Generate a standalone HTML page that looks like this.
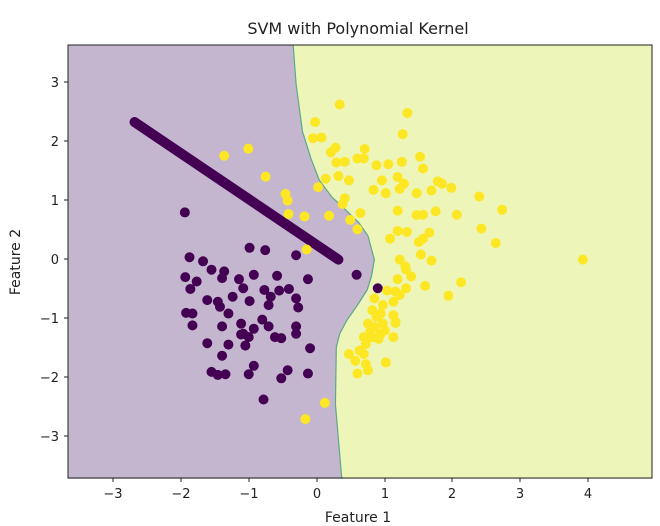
<!DOCTYPE html>
<html><head><meta charset="utf-8"><style>
body{margin:0;background:#fff;}
svg{display:block;font-family:"DejaVu Sans","Liberation Sans",sans-serif;}
</style></head><body>
<svg width="660" height="526" viewBox="0 0 660 526">
<rect width="660" height="526" fill="#fff"/>
<text x="358" y="34" font-size="16" text-anchor="middle" fill="#222">SVM with Polynomial Kernel</text>
<g transform="scale(0.42301,0.33715)">
<rect x="160" y="133" width="1380" height="1287" fill="#c5b6cf"/>
<path d="M693,133 L700,250 L715,390 L735,470 L755,535 L785,585 L815,620 L848,660 L870,700 L885,770 L878,820 L868,860 L845,905 L820,950 L803,990 L795,1030 L793,1200 L808,1420 L1540,1420 L1540,133 Z" fill="#eef5b8"/>
<path d="M693,133 L700,250 L715,390 L735,470 L755,535 L785,585 L815,620 L848,660 L870,700 L885,770 L878,820 L868,860 L845,905 L820,950 L803,990 L795,1030 L793,1200 L808,1420" fill="none" stroke="#5aa98a" stroke-width="1.2" vector-effect="non-scaling-stroke"/>
<g stroke="#440154" stroke-width="10" stroke-linecap="round" fill="none" vector-effect="non-scaling-stroke">
<path vector-effect="non-scaling-stroke" d="M318,362 L800,770"/>
<path vector-effect="non-scaling-stroke" d="M843,815h0M893,855h0M437,630h0M590,735h0M627,742h0M700,757h0M448,763h0M480,775h0M438,822h0M465,835h0M500,800h0M530,805h0M525,825h0M565,828h0M600,815h0M655,818h0M728,828h0M450,857h0M575,855h0M625,860h0M660,862h0M683,857h0M490,890h0M515,895h0M550,880h0M590,893h0M640,880h0M700,885h0M635,905h0M705,912h0M440,928h0M455,930h0M520,910h0M540,930h0M570,960h0M620,948h0M455,965h0M525,968h0M575,990h0M600,975h0M635,968h0M700,968h0M700,990h0M570,992h0M650,1000h0M665,1003h0M588,1000h0M490,1018h0M540,1022h0M580,1025h0M525,1055h0M733,1033h0M600,1085h0M500,1103h0M515,1112h0M533,1110h0M588,1110h0M665,1122h0M680,1098h0M728,1108h0M623,1185h0"/>
</g>
<path fill="none" stroke="#fde725" stroke-width="10" stroke-linecap="round" vector-effect="non-scaling-stroke" d="M803,310h0M963,335h0M745,362h0M952,398h0M740,410h0M760,408h0M530,462h0M587,441h0M793,438h0M862,442h0M782,452h0M815,480h0M845,470h0M860,470h0M795,482h0M890,490h0M918,487h0M950,480h0M993,465h0M1000,500h0M628,524h0M770,530h0M800,522h0M825,535h0M903,535h0M940,525h0M955,545h0M1035,538h0M1045,545h0M1067,557h0M1020,565h0M752,555h0M675,575h0M680,595h0M883,563h0M912,573h0M945,560h0M985,573h0M815,588h0M810,605h0M1133,583h0M1187,622h0M682,635h0M720,642h0M778,640h0M852,632h0M940,625h0M985,638h0M1000,637h0M1030,627h0M1080,637h0M828,652h0M845,680h0M922,708h0M940,685h0M962,688h0M1015,690h0M990,718h0M1000,708h0M1138,678h0M1172,721h0M725,740h0M995,755h0M1020,773h0M945,770h0M958,790h0M960,800h0M972,820h0M940,828h0M1005,848h0M1090,837h0M915,862h0M935,865h0M885,885h0M1060,877h0M905,905h0M930,895h0M945,875h0M960,855h0M880,920h0M900,930h0M930,935h0M935,955h0M870,960h0M885,970h0M900,990h0M860,1000h0M880,1000h0M910,980h0M865,1020h0M895,1005h0M850,1040h0M860,1050h0M825,1050h0M840,1070h0M865,1080h0M912,1075h0M845,1108h0M870,1098h0M768,1195h0M722,1243h0M1378,770h0M935,958h0M890,940h0M905,960h0M875,985h0M930,1000h0"/>
</g>
<rect x="68" y="45" width="584" height="433" fill="none" stroke="#222" stroke-width="1"/>
<g stroke="#222" stroke-width="1">
<line x1="113" y1="478" x2="113" y2="482"/><line x1="181" y1="478" x2="181" y2="482"/><line x1="249" y1="478" x2="249" y2="482"/><line x1="317" y1="478" x2="317" y2="482"/><line x1="385" y1="478" x2="385" y2="482"/><line x1="452" y1="478" x2="452" y2="482"/><line x1="520" y1="478" x2="520" y2="482"/><line x1="588" y1="478" x2="588" y2="482"/>
<line x1="64" y1="82" x2="68" y2="82"/><line x1="64" y1="141" x2="68" y2="141"/><line x1="64" y1="200" x2="68" y2="200"/><line x1="64" y1="259" x2="68" y2="259"/><line x1="64" y1="318" x2="68" y2="318"/><line x1="64" y1="377" x2="68" y2="377"/><line x1="64" y1="436" x2="68" y2="436"/>
</g>
<g font-size="13" fill="#222" text-anchor="middle">
<text x="113" y="498">−3</text><text x="181" y="498">−2</text><text x="249" y="498">−1</text><text x="317" y="498">0</text><text x="385" y="498">1</text><text x="452" y="498">2</text><text x="520" y="498">3</text><text x="588" y="498">4</text>
</g>
<g font-size="13" fill="#222" text-anchor="end">
<text x="59" y="87">3</text><text x="59" y="146">2</text><text x="59" y="205">1</text><text x="59" y="264">0</text><text x="59" y="323">−1</text><text x="59" y="382">−2</text><text x="59" y="441">−3</text>
</g>
<text x="358" y="522" font-size="14" text-anchor="middle" fill="#222">Feature 1</text>
<text transform="translate(20,262) rotate(-90)" font-size="14" text-anchor="middle" fill="#222">Feature 2</text>
</svg>
</body></html>
